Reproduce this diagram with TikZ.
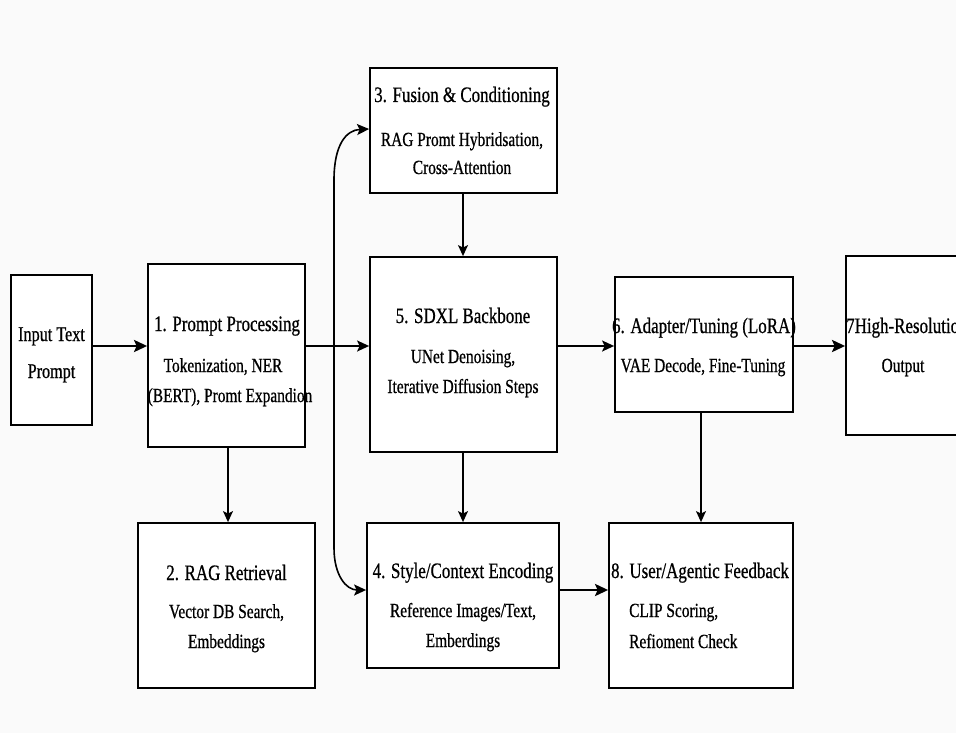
\documentclass[tikz,border=0pt]{standalone}
\usepackage{fontspec}
\setmainfont[FakeStretch=0.77,FakeBold=0.7]{Liberation Serif}
\usetikzlibrary{arrows.meta,calc}
\definecolor{bgc}{RGB}{250,250,250}
\begin{document}
\begin{tikzpicture}[x=1pt,y=-1pt,
  box/.style={draw=black, line width=1.8pt, fill=white, inner sep=0pt},
  ttl/.style={anchor=base, inner sep=0pt, font=\fontsize{22}{26}\selectfont},
  subt/.style={anchor=base, inner sep=0pt, font=\fontsize{20}{24}\selectfont},
  lsub/.style={anchor=base west, inner sep=0pt, font=\fontsize{20}{24}\selectfont},
  conn/.style={line width=1.6pt, -{Stealth[length=12pt,width=11pt,inset=2.5pt]}},
  thinconn/.style={line width=1.3pt, -{Stealth[length=11pt,width=10pt,inset=2.5pt]}},
  heavyconn/.style={line width=2.6pt, -{Stealth[length=13pt,width=12pt,inset=2.5pt]}}]
\useasboundingbox (0,0) rectangle (956,733);
\clip (0,0) rectangle (956,733);
\fill[bgc] (0,0) rectangle (956,733);

% boxes
\node[box, minimum width=81pt,  minimum height=150pt] (in) at (51.5,350) {};
\node[box, minimum width=157pt, minimum height=183pt] (b1) at (226.5,355.5) {};
\node[box, minimum width=187pt, minimum height=125pt] (b3) at (463.5,130.5) {};
\node[box, minimum width=187pt, minimum height=195pt] (b5) at (463.5,354.5) {};
\node[box, minimum width=178pt, minimum height=135pt] (b6) at (704,344.5) {};
\node[box, minimum width=144pt, minimum height=179pt] (b7) at (918,345.5) {};
\node[box, minimum width=177pt, minimum height=165pt] (b2) at (226.5,605.5) {};
\node[box, minimum width=192pt, minimum height=145pt] (b4) at (463,595.5) {};
\node[box, minimum width=184pt, minimum height=165pt] (b8) at (701,605.5) {};

% texts
\node[ttl, font=\fontsize{21}{25}\selectfont] (inA) at (51.5,341) {Input Text};
\node[ttl, font=\fontsize{21}{25}\selectfont] (inB) at (51.5,378) {Prompt};

\node[ttl]  (t1a) at (227,331) {1. Prompt Processing};
\node[subt] (t1b) at (223,372) {Tokenization, NER};
\node[subt] (t1c) at (230,402) {(BERT), Promt Expandion};

\node[ttl]  (t3a) at (462,102) {3. Fusion \& Conditioning};
\node[subt] (t3b) at (462,146) {RAG Promt Hybridsation,};
\node[subt] (t3c) at (462,174) {Cross-Attention};

\node[ttl]  (t5a) at (463,323) {5. SDXL Backbone};
\node[subt] (t5b) at (463,363) {UNet Denoising,};
\node[subt] (t5c) at (463,393) {Iterative Diffusion Steps};

\node[ttl]  (t6a) at (704,333) {6. Adapter/Tuning (LoRA)};
\node[subt] (t6b) at (703,372) {VAE Decode, Fine-Tuning};

\node[ttl, anchor=base west] (t7a) at (846,333) {7High-Resolution};
\node[subt] (t7b) at (903,372) {Output};

\node[ttl]  (t2a) at (226.5,580) {2. RAG Retrieval};
\node[subt] (t2b) at (226.5,618) {Vector DB Search,};
\node[subt] (t2c) at (226.5,648) {Embeddings};

\node[ttl]  (t4a) at (463,578) {4. Style/Context Encoding};
\node[subt] (t4b) at (463,617) {Reference Images/Text,};
\node[subt] (t4c) at (463,647) {Emberdings};

\node[ttl]  (t8a) at (700,578) {8. User/Agentic Feedback};
\node[lsub] (t8b) at (629,617) {CLIP Scoring,};
\node[lsub] (t8c) at (629,648) {Refioment Check};

% connectors
\coordinate (row) at (0,346);
\coordinate (row2) at (0,590);
\coordinate (j) at (334,346);

\draw[heavyconn] (in.east |- row) -- (b1.west |- row);
\draw[conn] (b1.east |- row) -- (b5.west |- row);
\draw[conn] (b5.east |- row) -- (b6.west |- row);
\draw[heavyconn] (b6.east |- row) -- (b7.west |- row);

\draw[conn] (j) -- (334,180) .. controls (334,145) and (346,130) .. (b3.west |- 0,129);
\draw[conn] (j) -- (334,548) .. controls (334,575) and (346,590) .. (b4.west |- row2);

\draw[thinconn] (b1.south -| 228,0) -- (b2.north -| 228,0);
\draw[thinconn] (b3.south -| 463,0) -- (b5.north -| 463,0);
\draw[thinconn] (b5.south -| 463,0) -- (b4.north -| 463,0);
\draw[thinconn] (b6.south -| 701,0) -- (b8.north -| 701,0);
\draw[heavyconn] (b4.east |- row2) -- (b8.west |- row2);
\end{tikzpicture}
\end{document}
